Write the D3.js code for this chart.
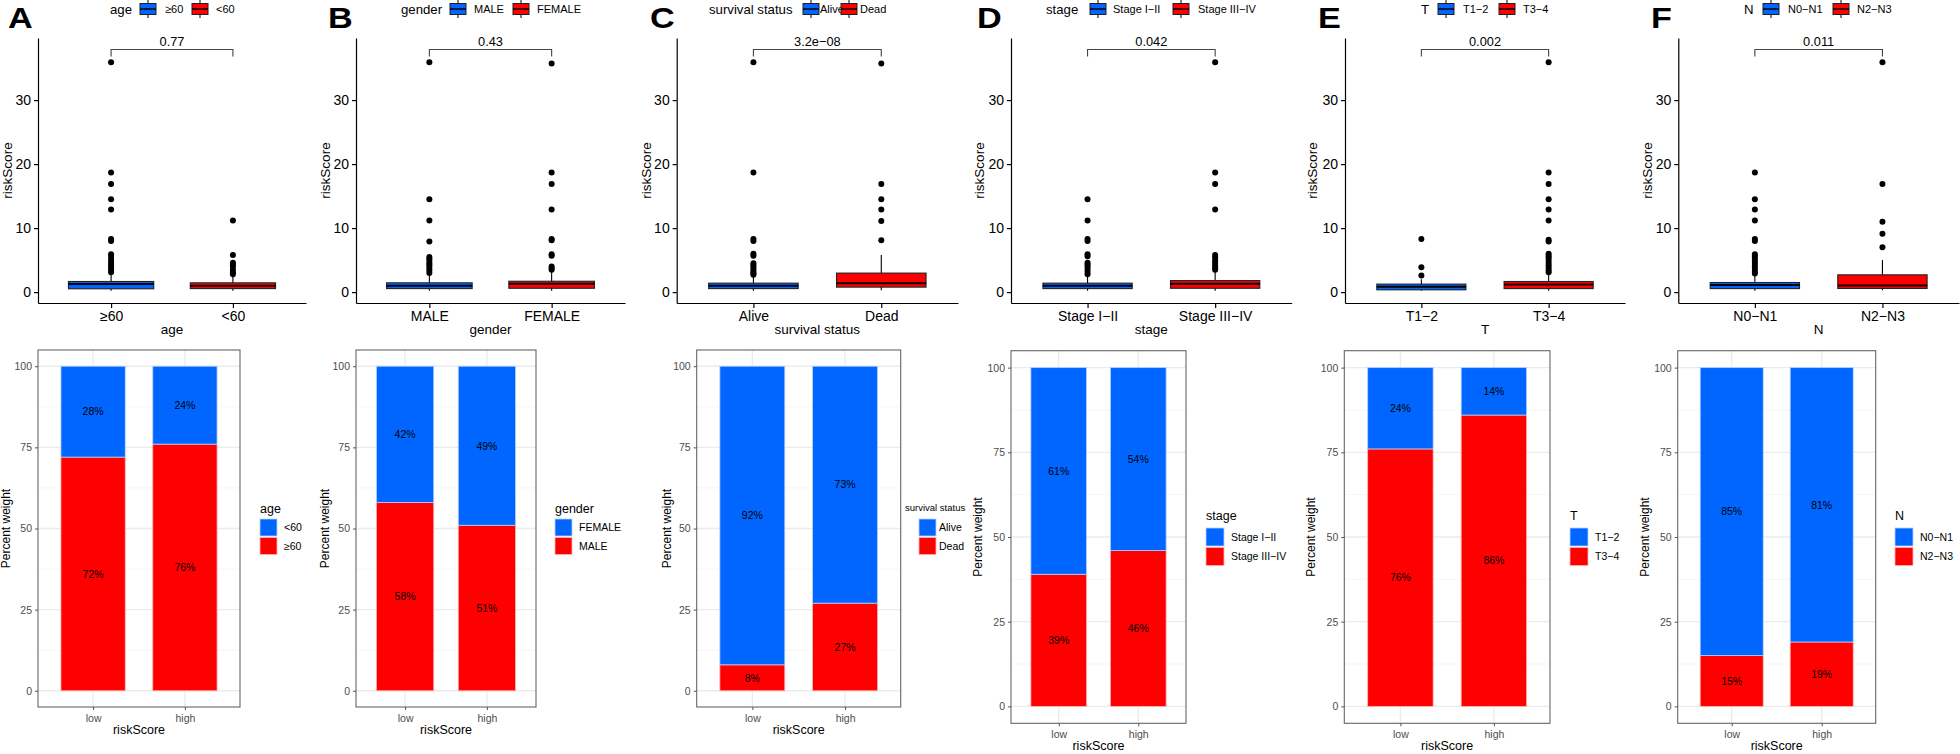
<!DOCTYPE html>
<html>
<head>
<meta charset="utf-8">
<script src="https://cdn.jsdelivr.net/npm/d3@7"></script>
<style>
body { margin: 0; background: #fff; }
svg { font-family: "Liberation Sans", Arial, sans-serif; }
</style>
</head>
<body>
<svg id="chart"></svg>
<script>
// ---- data ----
var panelLetters = ["A", "B", "C", "D", "E", "F"];
var variables = ["age", "gender", "survival status", "stage", "T", "N"];
var groups = [["≥60", "<60"], ["MALE", "FEMALE"], ["Alive", "Dead"],
              ["Stage I−II", "Stage III−IV"], ["T1−2", "T3−4"], ["N0−N1", "N2−N3"]];
var pValues = ["0.77", "0.43", "3.2e−08", "0.042", "0.002", "0.011"];

// box stats per group: [lower whisker, q1, median, q3, upper whisker]
var boxStats = [
    [[0.2, 0.52, 1.25, 1.66, 2.97], [0.2, 0.55, 1.0, 1.45, 2.6]],
    [[0.2, 0.55, 1.0, 1.45, 2.6], [0.2, 0.6, 1.3, 1.7, 3.3]],
    [[0.2, 0.55, 1.0, 1.4, 2.5], [0.3, 0.78, 1.4, 2.97, 5.8]],
    [[0.2, 0.55, 1.0, 1.4, 2.6], [0.2, 0.6, 1.3, 1.8, 3.3]],
    [[0.2, 0.36, 0.85, 1.25, 2.0], [0.2, 0.55, 1.2, 1.66, 3.0]],
    [[0.2, 0.55, 1.1, 1.5, 2.7], [0.3, 0.57, 1.05, 2.7, 5.0]]
];
var outliers = [
    [[35.9, 18.7, 16.9, 14.5, 12.9, 8.3, 8.0, 5.9, 5.5, 5.0, 4.6, 4.2, 3.8, 3.4, 3.1],
     [11.2, 5.8, 4.6, 4.3, 4.0, 3.5, 3.1, 2.8]],
    [[35.9, 14.5, 11.2, 7.9, 5.5, 5.2, 4.9, 4.5, 4.2, 3.8, 3.4, 3.0],
     [35.7, 18.7, 16.9, 12.9, 8.3, 8.1, 5.9, 5.7, 4.0, 3.7, 3.5]],
    [[35.9, 18.7, 8.3, 8.0, 6.0, 5.7, 4.5, 4.2, 3.9, 3.5, 3.2, 2.9, 2.7],
     [35.7, 16.9, 14.5, 12.9, 11.1, 8.1]],
    [[14.5, 11.2, 8.3, 8.0, 5.9, 5.6, 4.6, 4.3, 4.0, 3.6, 3.2, 2.8],
     [35.9, 18.7, 16.9, 12.9, 5.8, 5.4, 4.9, 4.6, 4.2, 3.8, 3.5]],
    [[8.3, 3.9, 2.6],
     [35.9, 18.7, 16.9, 14.5, 12.9, 11.2, 8.2, 7.9, 6.0, 5.7, 5.4, 5.0, 4.6, 4.2, 3.8, 3.4, 3.1]],
    [[18.7, 14.5, 12.9, 11.2, 8.3, 8.0, 5.9, 5.6, 5.2, 4.8, 4.4, 4.0, 3.6, 3.2, 2.9],
     [35.9, 16.9, 11.0, 9.1, 7.0]]
];
var yTicksTop = [0, 10, 20, 30];

var riskGroups = ["low", "high"];
var barLegend = [["<60", "≥60"], ["FEMALE", "MALE"], ["Alive", "Dead"],
                 ["Stage I−II", "Stage III−IV"], ["T1−2", "T3−4"], ["N0−N1", "N2−N3"]];
var bluePct = [[28, 24], [42, 49], [92, 73], [61, 54], [24, 14], [85, 81]];
var redPct = [[72, 76], [58, 51], [8, 27], [39, 46], [76, 86], [15, 19]];
var yTicksBar = [0, 25, 50, 75, 100];

// ---- layout ----
var W = 1960, H = 754;
var blue = "#0066ff", red = "#ff0000";

var topLayout = [
    {left: 38, right: 306, ylab: 7.5, letter: 8, leg: [110, 140, 165, 192, 216]},
    {left: 356, right: 625, ylab: 325, letter: 328, leg: [401, 450, 474, 513, 537]},
    {left: 676.7, right: 958, ylab: 646, letter: 650, leg: [709, 803, 820, 841, 860]},
    {left: 1011, right: 1291.7, ylab: 979, letter: 977, leg: [1046, 1090, 1113, 1173, 1198]},
    {left: 1345, right: 1625, ylab: 1312, letter: 1318, leg: [1421, 1438, 1463, 1499, 1523]},
    {left: 1678.3, right: 1959, ylab: 1647, letter: 1651, leg: [1744, 1763, 1788, 1833, 1857]}
];
var botLayout = [
    {left: 38, right: 240, top: 350, bottom: 707, ylab: 5, leg: 260},
    {left: 356, right: 536, top: 350, bottom: 707, ylab: 324, leg: 555},
    {left: 696.7, right: 900.7, top: 350, bottom: 707, ylab: 666, leg: 905, small: true},
    {left: 1011, right: 1186, top: 350.7, bottom: 723.3, ylab: 977, leg: 1206},
    {left: 1344.3, right: 1550, top: 350.7, bottom: 723.3, ylab: 1310, leg: 1570},
    {left: 1677.7, right: 1875.7, top: 350.7, bottom: 723.3, ylab: 1644, leg: 1895}
];

var svg = d3.select("#chart").attr("width", W).attr("height", H);

var drawBoxPanel = function(i)
{
    var L = topLayout[i];
    var top = 38, bottom = 303;
    var x = d3.scaleLinear().domain([0.4, 2.6]).range([L.left, L.right]);
    var y = d3.scaleLinear().domain([-1.7, 39.7]).range([bottom, top]);
    var g = svg.append("g").attr("class", "boxpanel");

    // letter
    g.append("text")
        .attr("transform", "translate(" + L.letter + ",28) scale(1.18,1)")
        .attr("font-size", 29).attr("font-weight", "bold")
        .text(panelLetters[i]);

    // axes
    var xAxis = g.append("g")
        .attr("transform", "translate(0," + bottom + ")")
        .call(d3.axisBottom(x).tickValues([1, 2]).tickSize(5).tickSizeOuter(0)
            .tickFormat(function(d) { return groups[i][d - 1]; }));
    var yAxis = g.append("g")
        .attr("transform", "translate(" + L.left + ",0)")
        .call(d3.axisLeft(y).tickValues(yTicksTop).tickSize(4).tickSizeOuter(0));
    [xAxis, yAxis].forEach(function(a) {
        a.selectAll("path, line").attr("stroke", "#000").attr("stroke-width", 1.2);
        a.selectAll("text").attr("fill", "#000").attr("font-size", 14)
            .attr("font-family", "Liberation Sans, Arial, sans-serif");
    });

    g.append("text")
        .attr("x", (L.left + L.right) / 2).attr("y", 334)
        .attr("text-anchor", "middle").attr("font-size", 13.5)
        .text(variables[i]);
    g.append("text")
        .attr("transform", "translate(" + (L.ylab + 4.5) + "," + ((top + bottom) / 2) + ") rotate(-90)")
        .attr("text-anchor", "middle").attr("font-size", 13.5)
        .text("riskScore");

    // boxes
    var bw = 0.35;
    boxStats[i].forEach(function(s, k) {
        var cx = x(k + 1);
        var col = k === 0 ? blue : red;
        g.append("line").attr("x1", cx).attr("x2", cx)
            .attr("y1", y(s[0])).attr("y2", y(s[4]))
            .attr("stroke", "#000").attr("stroke-width", 1.1);
        g.append("rect")
            .attr("x", x(k + 1 - bw)).attr("width", x(k + 1 + bw) - x(k + 1 - bw))
            .attr("y", y(s[3])).attr("height", y(s[1]) - y(s[3]))
            .attr("fill", col).attr("stroke", "#222").attr("stroke-width", 1.1);
        g.append("line").attr("x1", x(k + 1 - bw)).attr("x2", x(k + 1 + bw))
            .attr("y1", y(s[2])).attr("y2", y(s[2]))
            .attr("stroke", "#000").attr("stroke-width", 2);
        g.selectAll(null).data(outliers[i][k]).enter().append("circle")
            .attr("cx", cx).attr("cy", function(v) { return y(v); })
            .attr("r", 3).attr("fill", "#000");
    });

    // p-value bracket
    var by = y(37.9), bt = y(36.8);
    g.append("path")
        .attr("d", "M" + x(1) + "," + bt + "V" + by + "H" + x(2) + "V" + bt)
        .attr("fill", "none").attr("stroke", "#444").attr("stroke-width", 1.1);
    g.append("text")
        .attr("x", (x(1) + x(2)) / 2).attr("y", by - 3.5)
        .attr("text-anchor", "middle").attr("font-size", 12.8)
        .text(pValues[i]);

    // top legend
    var lg = g.append("g");
    var lp = L.leg;
    lg.append("text").attr("x", lp[0]).attr("y", 9).attr("dy", "0.36em")
        .attr("font-size", 13.2).text(variables[i]);
    [[lp[1], lp[2], blue], [lp[3], lp[4], red]].forEach(function(it, k) {
        var kx = it[0], kw = 16;
        lg.append("line").attr("x1", kx + kw / 2).attr("x2", kx + kw / 2)
            .attr("y1", 0).attr("y2", 18).attr("stroke", "#000").attr("stroke-width", 1);
        lg.append("rect").attr("x", kx).attr("y", 3.5).attr("width", kw).attr("height", 11)
            .attr("fill", it[2]).attr("stroke", "#222").attr("stroke-width", 1);
        lg.append("line").attr("x1", kx).attr("x2", kx + kw).attr("y1", 9).attr("y2", 9)
            .attr("stroke", "#000").attr("stroke-width", 1.5);
        lg.append("text").attr("x", it[1]).attr("y", 9).attr("dy", "0.36em")
            .attr("font-size", 11).text(groups[i][k]);
    });
}

var drawBarPanel = function(i)
{
    var L = botLayout[i];
    var x = d3.scaleLinear().domain([0.4, 2.6]).range([L.left, L.right]);
    var y = d3.scaleLinear().domain([-5, 105]).range([L.bottom, L.top]);
    var g = svg.append("g").attr("class", "barpanel");

    // grid
    var minor = [12.5, 37.5, 62.5, 87.5];
    g.selectAll(null).data(minor).enter().append("line")
        .attr("x1", L.left).attr("x2", L.right)
        .attr("y1", function(d) { return y(d); }).attr("y2", function(d) { return y(d); })
        .attr("stroke", "#f2f2f2").attr("stroke-width", 0.7);
    g.selectAll(null).data(yTicksBar).enter().append("line")
        .attr("x1", L.left).attr("x2", L.right)
        .attr("y1", function(d) { return y(d); }).attr("y2", function(d) { return y(d); })
        .attr("stroke", "#ebebeb").attr("stroke-width", 1.3);
    g.selectAll(null).data([1, 2]).enter().append("line")
        .attr("x1", function(d) { return x(d); }).attr("x2", function(d) { return x(d); })
        .attr("y1", L.top).attr("y2", L.bottom)
        .attr("stroke", "#ebebeb").attr("stroke-width", 1.3);

    // stacked bars
    var bw = 0.35;
    riskGroups.forEach(function(r, k) {
        var redH = redPct[i][k], blueH = bluePct[i][k];
        var x0 = x(k + 1 - bw), ww = x(k + 1 + bw) - x(k + 1 - bw);
        g.append("rect").attr("x", x0).attr("width", ww)
            .attr("y", y(redH)).attr("height", y(0) - y(redH))
            .attr("fill", red).attr("stroke", "#ffb3b3").attr("stroke-width", 0.8);
        g.append("rect").attr("x", x0).attr("width", ww)
            .attr("y", y(100)).attr("height", y(redH) - y(100))
            .attr("fill", blue).attr("stroke", "#b3d1ff").attr("stroke-width", 0.8);
        g.append("text").attr("x", x(k + 1)).attr("y", y(redH / 2)).attr("dy", "0.36em")
            .attr("text-anchor", "middle").attr("font-size", 10.5)
            .text(redH + "%");
        g.append("text").attr("x", x(k + 1)).attr("y", y(redH + blueH / 2)).attr("dy", "0.36em")
            .attr("text-anchor", "middle").attr("font-size", 10.5)
            .text(blueH + "%");
    });

    // border
    g.append("rect").attr("x", L.left).attr("y", L.top)
        .attr("width", L.right - L.left).attr("height", L.bottom - L.top)
        .attr("fill", "none").attr("stroke", "#666").attr("stroke-width", 1.1);

    // axes
    var xAxis = g.append("g")
        .attr("transform", "translate(0," + L.bottom + ")")
        .call(d3.axisBottom(x).tickValues([1, 2]).tickSize(3).tickSizeOuter(0)
            .tickFormat(function(d) { return riskGroups[d - 1]; }));
    var yAxis = g.append("g")
        .attr("transform", "translate(" + L.left + ",0)")
        .call(d3.axisLeft(y).tickValues(yTicksBar).tickSize(3).tickSizeOuter(0));
    [xAxis, yAxis].forEach(function(a) {
        a.select(".domain").remove();
        a.selectAll("line").attr("stroke", "#555");
        a.selectAll("text").attr("fill", "#4d4d4d").attr("font-size", 10.5)
            .attr("font-family", "Liberation Sans, Arial, sans-serif");
    });
    xAxis.selectAll("text").attr("dy", "0.85em");

    g.append("text")
        .attr("x", (L.left + L.right) / 2).attr("y", L.bottom + 27)
        .attr("text-anchor", "middle").attr("font-size", 12.5)
        .text("riskScore");
    g.append("text")
        .attr("transform", "translate(" + (L.ylab + 4.5) + "," + ((L.top + L.bottom) / 2) + ") rotate(-90)")
        .attr("text-anchor", "middle").attr("font-size", 12)
        .text("Percent weight");

    // legend
    var tall = L.bottom > 710;
    var ks = tall ? 18 : 17;
    var ty = tall ? 515 : 508;
    var ky = tall ? 528 : 519;
    var lx = L.leg;
    g.append("text").attr("x", lx).attr("y", ty).attr("dy", "0.36em")
        .attr("font-size", L.small ? 9.5 : 12.5).text(variables[i]);
    var kx = L.small ? lx + 14 : lx;
    [blue, red].forEach(function(c, k) {
        g.append("rect").attr("x", kx).attr("y", ky + k * (ks + 1.5))
            .attr("width", ks).attr("height", ks)
            .attr("fill", c).attr("stroke", k === 0 ? "#b3d1ff" : "#ffb3b3").attr("stroke-width", 0.8);
        g.append("text").attr("x", kx + ks + (L.small ? 3 : 7)).attr("y", ky + k * (ks + 1.5) + ks / 2)
            .attr("dy", "0.36em").attr("font-size", 10.5)
            .text(barLegend[i][k]);
    });
}

for (var i = 0; i < 6; i++) {
    drawBoxPanel(i);
    drawBarPanel(i);
}
</script>
</body>
</html>
